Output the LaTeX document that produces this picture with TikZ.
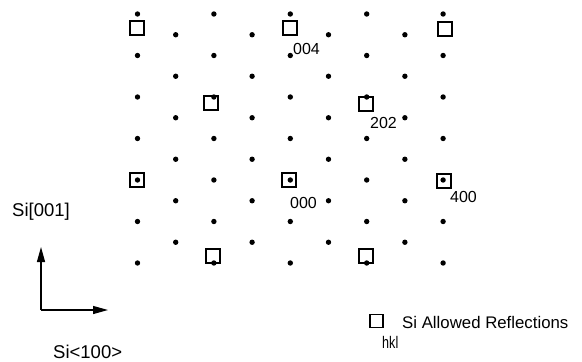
\documentclass[tikz,border=0pt]{standalone}
\usepackage{fontspec}
\setmainfont{Liberation Sans}
\usetikzlibrary{arrows.meta}
\begin{document}
\begin{tikzpicture}[x=1pt,y=-1pt,
  spot/.style={circle,fill=black,inner sep=0pt,minimum size=5.4pt},
  refl/.style={draw=black,line width=1.6pt,inner sep=0pt,minimum size=14.5pt},
  idx/.style={inner sep=0pt,anchor=west,font=\fontsize{16}{16}\selectfont},
  axlabel/.style={inner sep=0pt,anchor=west,font=\fontsize{18.5}{18.5}\selectfont},
  keylabel/.style={inner sep=0pt,anchor=west,font=\fontsize{16.8}{16.8}\selectfont},
  axis/.style={line width=1.2pt,-{Triangle[length=15pt,width=8pt]}}]
\useasboundingbox (0,0) rectangle (582,362);

% allowed Si reflections (open squares)
\foreach \n/\x/\y in {a/137/28, b/290/28, c/445/29,
                      d/211/103, e/366/104,
                      f/137/180, g/289/180, h/444/181,
                      i/213/256, j/366/256}
  \node[refl] (r-\n) at (\x,\y) {};

% diffraction spots on a centred lattice
\foreach \r in {0,...,12}{
  \pgfmathsetmacro\yy{14+20.75*\r}
  \ifodd\r
    \foreach \c in {0,...,3}{\node[spot] (s-\r-\c) at ({175.7+76.4*\c},\yy) {};}
  \else
    \foreach \c in {0,...,4}{\node[spot] (s-\r-\c) at ({137.5+76.4*\c},\yy) {};}
  \fi
}

% indices
\node[idx] (l004) at (293,49) {004};
\node[idx] (l202) at (370,123) {202};
\node[idx] (l000) at (290,203) {000};
\node[idx] (l400) at (450,197) {400};

% crystal axes
\coordinate (o) at (41,310);
\coordinate (up) at (41,247);
\coordinate (rt) at (108,310);
\draw[axis] (o) -- (up);
\draw[axis] (o) -- (rt);
\node[axlabel] (ylab) at (12,212) {Si[001]};
\node[axlabel] (xlab) at (53,352) {Si<100>};

% legend
\node[draw=black,line width=1.4pt,inner sep=0pt,minimum size=13pt] (key) at (376.5,321) {};
\node[keylabel] (keytext) at (402,322) {Si Allowed Reflections};
\node[keylabel] (hkl) at (382,342) {\scalebox{0.75}[1]{hkl}};
\end{tikzpicture}
\end{document}
